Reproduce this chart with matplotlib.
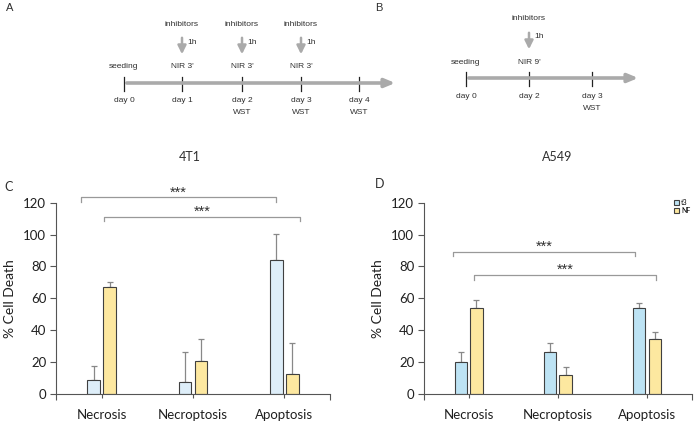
import numpy as np
import matplotlib.pyplot as plt
from matplotlib.patches import Patch

plt.rcParams['font.family'] = ['Lato', 'DejaVu Sans']

categories = ["Necrosis", "Necroptosis", "Apoptosis"]
series = ["t3", "NF"]

# 4T1 (panel C)
c_t3 = [8.5, 7.7, 84.3]
c_t3_err = [9.1, 18.4, 15.8]
c_nf = [66.9, 20.9, 12.3]
c_nf_err = [3.1, 13.4, 19.7]

# A549 (panel D)
d_t3 = [19.9, 26.1, 53.7]
d_t3_err = [6.6, 5.9, 3.2]
d_nf = [54.1, 11.7, 34.3]
d_nf_err = [5.1, 5.4, 4.8]

# significance brackets: (x_start, x_end, y, star_x)
c_brackets = [(-0.23, 1.91, 123.3, 0.84), (0.03, 2.17, 111.2, 1.10)]
d_brackets = [(-0.17, 1.865, 89.1, 0.85), (0.064, 2.096, 74.6, 1.08)]

# timelines
a_days = ["day 0", "day 1", "day 2", "day 3", "day 4"]
a_day_x = [124, 182, 242, 301, 359]
a_wst = [False, False, True, True, True]
a_nir = [False, True, True, True, False]
b_days = ["day 0", "day 2", "day 3"]
b_day_x = [466, 529, 592]
b_wst = [False, False, True]
b_nir = [False, True, False]

yellow = "#fde8a0"
edge = "#404040"
txt = "#303030"
sch_font = ["Liberation Sans", "DejaVu Sans"]

fig = plt.figure(figsize=(6.94, 4.22), dpi=100)

# --- timeline schematic, drawn in pixel coordinates ---
top = fig.add_axes([0, 0, 1, 1], zorder=-1)
top.set_xlim(0, 694)
top.set_ylim(422, 0)
top.axis("off")


def stext(x, y, s, ha="center"):
    top.text(x, y, s, ha=ha, va="center", fontsize=6, color=txt, family=sch_font)


def timeline(x0, x1, y, xs, days, wst, nir, nir_text):
    top.annotate("", xy=(x1, y), xytext=(x0, y),
                 arrowprops=dict(arrowstyle="-|>,head_length=0.6,head_width=0.25",
                                 color="#aaaaaa", lw=2.6))
    for x, d, w, n in zip(xs, days, wst, nir):
        top.plot([x, x], [y - 6, y + 8], color="#222222", lw=0.9)
        stext(x, y + 18, d)
        if w:
            stext(x, y + 30, "WST")
        if n:
            stext(x, y - 16, nir_text)
            top.annotate("", xy=(x, y - 26), xytext=(x, y - 48),
                         arrowprops=dict(arrowstyle="-|>,head_length=0.5,head_width=0.25",
                                         color="#aaaaaa", lw=1.8))
            stext(x + 5, y - 41, "1h", ha="left")
            stext(x, y - 59, "inhibitors")
    stext(xs[0], y - 16, "seeding")


timeline(124, 398, 83, a_day_x, a_days, a_wst, a_nir, "NIR 3'")
timeline(466, 641, 78, b_day_x, b_days, b_wst, b_nir, "NIR 9'")
top.text(10, 8, "A", fontsize=8, ha="center", va="center", color=txt, family=sch_font)
top.text(379, 8, "B", fontsize=8, ha="center", va="center", color=txt, family=sch_font)
top.text(190, 157, "4T1", fontsize=9, ha="center", va="center", color=txt)
top.text(557, 157, "A549", fontsize=9, ha="center", va="center", color=txt)
top.text(9, 187, "C", fontsize=9, ha="center", va="center", color=txt)
top.text(380, 184, "D", fontsize=9, ha="center", va="center", color=txt)


def bar_panel(ax, t3, t3_err, nf, nf_err, blue, brackets):
    x = np.arange(len(categories))
    w = 0.14
    off = 0.088
    ax.bar(x - off, t3, w, color=blue, edgecolor=edge, linewidth=0.8, zorder=2)
    ax.bar(x + off, nf, w, color=yellow, edgecolor=edge, linewidth=0.8, zorder=2)
    ax.errorbar(x - off, t3, yerr=[np.zeros(3), t3_err], fmt="none", ecolor="#888888",
                elinewidth=0.9, capsize=2.5, capthick=0.9, zorder=1)
    ax.errorbar(x + off, nf, yerr=[np.zeros(3), nf_err], fmt="none", ecolor="#888888",
                elinewidth=0.9, capsize=2.5, capthick=0.9, zorder=1)
    ax.set_xlim(-0.5, 2.5)
    ax.set_ylim(0, 120)
    ax.set_yticks(range(0, 121, 20))
    ax.set_xticks(x)
    ax.set_xticklabels(categories, fontsize=9.5, color="#202020")
    ax.tick_params(axis="y", labelsize=9.5, length=4, width=0.8, color="#555555", pad=3,
                   labelcolor="#202020")
    ax.tick_params(axis="x", length=3, width=0.8, color="#555555", pad=8)
    ax.set_xticks([-0.5, 2.5], minor=True)
    ax.tick_params(axis="x", which="minor", length=4, width=0.8, color="#555555")
    for s in ("top", "right"):
        ax.spines[s].set_visible(False)
    for s in ("left", "bottom"):
        ax.spines[s].set_color("#555555")
        ax.spines[s].set_linewidth(0.8)
    ax.set_ylabel("% Cell Death", fontsize=10, labelpad=5, color="#202020")
    for x0, x1, y, sx in brackets:
        ax.plot([x0, x0, x1, x1], [y - 2.8, y, y, y - 2.8], color="#999999",
                lw=0.9, clip_on=False)
        ax.text(sx, y + 3.2, "***", ha="center", va="center", fontsize=10.5, color=txt,
                family=sch_font)


ax_c = fig.add_axes([56 / 694, 28 / 422, 274 / 694, 191.3 / 422])
bar_panel(ax_c, c_t3, c_t3_err, c_nf, c_nf_err, "#deeef9", c_brackets)

ax_d = fig.add_axes([424 / 694, 28 / 422, 267.7 / 694, 191.3 / 422])
bar_panel(ax_d, d_t3, d_t3_err, d_nf, d_nf_err, "#bde3f4", d_brackets)

handles = [Patch(facecolor="#bde3f4", edgecolor=edge, linewidth=0.8),
           Patch(facecolor=yellow, edgecolor=edge, linewidth=0.8)]
ax_d.legend(handles, series, loc="upper left", bbox_to_anchor=(0.93, 1.025),
            borderaxespad=0, borderpad=0.1, fontsize=5, frameon=False,
            handlelength=0.8, handleheight=0.8, handletextpad=0.3, labelspacing=0.15)

fig.savefig("out.png", dpi=100)
